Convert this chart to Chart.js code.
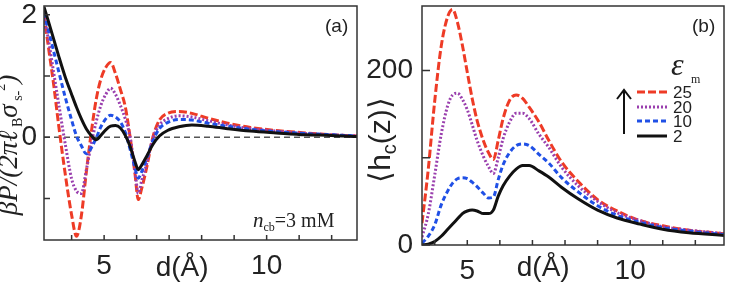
<!DOCTYPE html>
<html>
<head>
<meta charset="utf-8">
<script src="https://cdn.jsdelivr.net/npm/chart.js@4.4.0/dist/chart.umd.min.js"></script>
<style>
html,body{margin:0;padding:0;background:#fff;}
#wrap{position:relative;width:733px;height:287px;overflow:hidden;}
canvas{position:absolute;top:0;}
#ca{left:0;}
#cb{left:367px;}
</style>
</head>
<body>
<div id="wrap"><canvas id="ca" width="367" height="287"></canvas><canvas id="cb" width="366" height="287"></canvas></div>
<script>
// ── panel (a): pressure vs d ──
var dA=[3.15,3.3,3.45,3.6,3.8,4.0,4.15,4.3,4.45,4.6,4.75,4.9,5.05,5.2,5.35,5.5,5.65,5.8,5.95,6.05,6.15,6.3,6.5,6.7,6.95,7.3,7.7,8.2,8.8,9.5,10.3,11.2,12.0,12.8];
var pA25=[2.0,1.42,0.85,0.2,-0.59,-1.27,-1.62,-1.28,-0.58,0.06,0.6,0.95,1.14,1.22,1.04,0.78,0.5,0.0,-0.6,-1.02,-0.85,-0.52,0.0,0.28,0.39,0.42,0.39,0.31,0.23,0.16,0.11,0.07,0.04,0.02];
var pA20=[2.0,1.55,1.05,0.55,-0.1,-0.68,-0.88,-0.92,-0.54,-0.12,0.24,0.52,0.7,0.8,0.7,0.52,0.3,0.0,-0.55,-0.92,-0.72,-0.45,-0.02,0.2,0.3,0.35,0.33,0.27,0.2,0.14,0.1,0.06,0.04,0.02];
var pA10=[2.03,1.72,1.4,1.08,0.66,0.28,0.02,-0.14,-0.27,-0.18,-0.02,0.17,0.3,0.36,0.33,0.25,0.08,-0.2,-0.5,-0.67,-0.57,-0.36,-0.06,0.14,0.24,0.29,0.28,0.23,0.18,0.13,0.09,0.06,0.04,0.02];
var pA2=[2.13,1.87,1.6,1.33,0.99,0.7,0.49,0.3,0.14,0.03,-0.04,0.03,0.12,0.18,0.19,0.15,0.03,-0.15,-0.4,-0.53,-0.46,-0.32,-0.12,0.02,0.11,0.17,0.2,0.18,0.14,0.1,0.07,0.04,0.03,0.01];
var xTicksA=[5,10], yTicksA=[0,2];
var xMinorA=[4,5,6,7,8,9,10,11,12], yMinorA=[-1,0,1,2];

// ── panel (b): <h_c(z)> vs d ──
var dB=[3.61,3.8,4.0,4.2,4.4,4.55,4.7,4.85,5.0,5.15,5.3,5.5,5.65,5.8,5.95,6.1,6.3,6.5,6.7,6.9,7.2,7.5,7.9,8.4,9.0,9.6,10.3,11.0,11.8,12.88];
var hB25=[25,86,165,228,262,270,255,229,198,168,143,119,106,98,120,145,166,172,168,158,141,120,95,73,52,39,28,22,17,13];
var hB20=[9,35,80,127,160,172,174,167,155,138,120,101,90,82,100,122,141,151,151,145,127,112,89,68,50,37,28,21,17,13];
var hB10=[2,10,23,46,62,71,76,77,76,72,67,59,54,55,75,92,106,114,116,114,104,94,77,61,45,34,26,20,16,12];
var hB2=[0,1,4,10,18,24,30,36,39,40,39,36,36,40,56,68,79,87,91,91,85,78,66,53,40,31,24,18,14,11];
var xTicksB=[5,10], yTicksB=[0,200];
var xMinorB=[4,5,6,7,8,9,10,11,12], yMinorB=[0,100,200];

var epsLabels=['25','20','10','2'];

var SANS='"Liberation Sans", Arial, sans-serif';
var SERIF='"Liberation Serif", "Times New Roman", serif';
var STY={
  '25':{c:'#ee3b26',dash:[8,3]},
  '20':{c:'#9a3fae',dash:[2,2]},
  '10':{c:'#2050e6',dash:[5,3]},
  '2':{c:'#111111',dash:[]}
};

function pts(xs,ys){return xs.map(function(x,i){return{x:x,y:ys[i]};});}
function ds(lbl,xs,ys){
  var s=STY[lbl];
  return{label:lbl,data:pts(xs,ys),borderColor:s.c,borderDash:s.dash,borderWidth:3,pointRadius:0,fill:false,tension:0.4,cubicInterpolationMode:'monotone'};
}

// draw a row of text pieces [text,font,dy]
function runs(ctx,arr,x,y,align){
  var w=0;
  arr.forEach(function(r){ctx.font=r[1];w+=ctx.measureText(r[0]).width;});
  var cx=align==='center'?x-w/2:x;
  arr.forEach(function(r){ctx.font=r[1];ctx.fillText(r[0],cx,y+(r[2]||0));cx+=ctx.measureText(r[0]).width;});
}

var deco={
  id:'deco',
  beforeDatasetsDraw:function(c,a,o){
    if(!o.zero)return;
    var ctx=c.ctx,ca=c.chartArea,y=c.scales.y.getPixelForValue(0);
    ctx.save();ctx.strokeStyle='#555';ctx.lineWidth=1.5;ctx.setLineDash([6,4]);
    ctx.beginPath();ctx.moveTo(ca.left,y);ctx.lineTo(ca.right,y);ctx.stroke();ctx.restore();
  },
  afterDraw:function(c,a,o){
    var ctx=c.ctx,ca=c.chartArea,sx=c.scales.x,sy=c.scales.y;
    ctx.save();
    ctx.strokeStyle='#333';ctx.lineWidth=1.5;ctx.setLineDash([]);
    ctx.strokeRect(ca.left,ca.top,ca.right-ca.left,ca.bottom-ca.top);
    ctx.beginPath();
    o.xm.forEach(function(v){var x=sx.getPixelForValue(v);ctx.moveTo(x,ca.bottom);ctx.lineTo(x,ca.bottom-5);});
    o.ym.forEach(function(v){var y=sy.getPixelForValue(v);ctx.moveTo(ca.left,y);ctx.lineTo(ca.left+o.yl,y);});
    ctx.stroke();
    ctx.fillStyle='#222';ctx.textBaseline='alphabetic';
    // axis title between tick labels
    ctx.font='28px '+SANS;ctx.textAlign='center';
    ctx.fillText('d(Å)',sx.getPixelForValue(o.dpos),276);
    ctx.textAlign='left';
    ctx.font='19px '+SANS;ctx.fillText(o.tag,ca.right-32,32);
    if(o.panel==='a'){
      ctx.save();ctx.translate(17,145);ctx.rotate(-Math.PI/2);
      var big='italic 27px '+SERIF,sm='14px '+SERIF;
      runs(ctx,[['βP/(2πℓ',big,0],[' B',sm,5],['σ',big,0],[' s-',sm,5],['2',sm,-12],[')',big,0]],0,0,'center');
      ctx.restore();
      runs(ctx,[['n','italic 21px '+SERIF,0],['cb','12px '+SERIF,4],['=3 mM','20px '+SERIF,0]],253,227,'left');
    }else{
      ctx.save();ctx.translate(23,140);ctx.rotate(-Math.PI/2);
      runs(ctx,[['⟨h','30px '+SANS,0],['c','20px '+SANS,6],['(z)⟩','30px '+SANS,0]],0,0,'center');
      ctx.restore();
      // legend (canvas coords)
      ctx.font='italic 32px '+SERIF;ctx.fillText('ε',304,75);
      ctx.font='12px '+SERIF;ctx.fillText('m',324,83);
      var ys=[92,107,121,136];
      epsLabels.forEach(function(l,i){
        var s=STY[l];
        ctx.strokeStyle=s.c;ctx.lineWidth=3;ctx.setLineDash(s.dash);
        ctx.beginPath();ctx.moveTo(270,ys[i]);ctx.lineTo(300,ys[i]);ctx.stroke();
        ctx.fillStyle='#222';ctx.font='17px '+SANS;ctx.textBaseline='middle';
        ctx.fillText(l,306,ys[i]+1);
      });
      ctx.setLineDash([]);ctx.strokeStyle='#111';ctx.lineWidth=2;
      ctx.beginPath();ctx.moveTo(257,134);ctx.lineTo(257,91);
      ctx.moveTo(250,99);ctx.lineTo(257,90);ctx.lineTo(264,99);ctx.stroke();
    }
    ctx.restore();
  }
};

function mkScales(o){
  function zeroPad(s){s.paddingTop=0;s.paddingBottom=0;s.paddingLeft=0;s.paddingRight=0;}
  return{
    x:{type:'linear',min:o.xmin,max:o.xmax,
      afterBuildTicks:function(s){s.ticks=o.xt.map(function(v){return{value:v};});},
      afterFit:function(s){s.height=o.xh;zeroPad(s);},
      ticks:{padding:9,maxRotation:0,autoSkip:false,color:'#222',font:{family:SANS,size:28},callback:function(v){return String(v);}},
      grid:{display:false,drawTicks:false},border:{display:false}},
    y:{type:'linear',min:o.ymin,max:o.ymax,
      afterBuildTicks:function(s){s.ticks=o.yt.map(function(v){return{value:v};});},
      afterFit:function(s){s.width=o.yw;zeroPad(s);},
      ticks:{padding:o.yp,autoSkip:false,color:'#222',font:{family:SANS,size:28},callback:function(v){return String(v);}},
      grid:{display:false,drawTicks:false},border:{display:false}}
  };
}

Chart.register(deco);

new Chart(document.getElementById('ca'),{
  type:'line',
  data:{datasets:[ds('2',dA,pA2),ds('10',dA,pA10),ds('20',dA,pA20),ds('25',dA,pA25)]},
  options:{responsive:false,animation:false,
    layout:{padding:{left:0,right:10,top:6,bottom:0}},
    plugins:{legend:{display:false},tooltip:{enabled:false},
      deco:{panel:'a',zero:true,tag:'(a)',xm:xMinorA,ym:yMinorA,yl:6,dpos:7.4}},
    scales:mkScales({xmin:3.15,xmax:12.78,ymin:-1.68,ymax:2.145,xt:xTicksA,yt:yTicksA,xh:47,yw:44,yp:7})}
});

new Chart(document.getElementById('cb'),{
  type:'line',
  data:{datasets:[ds('2',dB,hB2),ds('10',dB,hB10),ds('20',dB,hB20),ds('25',dB,hB25)]},
  options:{responsive:false,animation:false,
    layout:{padding:{left:0,right:9,top:6,bottom:0}},
    plugins:{legend:{display:false},tooltip:{enabled:false},
      deco:{panel:'b',zero:false,tag:'(b)',xm:xMinorB,ym:yMinorB,yl:8,dpos:7.33}},
    scales:mkScales({xmin:3.61,xmax:12.88,ymin:0,ymax:274,xt:xTicksB,yt:yTicksB,xh:42,yw:55,yp:9})}
});
</script>
</body>
</html>
